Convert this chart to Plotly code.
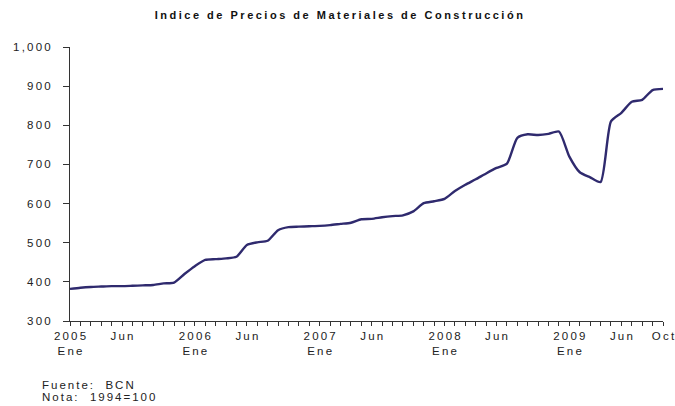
import plotly.graph_objects as go

# Monthly index, Jan 2005 .. Oct 2009
month_index = list(range(58))
values = [382, 385, 387, 388, 389, 389, 390, 391, 392, 396, 398, 420,
          440, 456, 458, 460, 464, 494, 501, 505, 532, 540, 541, 542,
          543, 545, 548, 551, 560, 561, 565, 568, 570, 580, 601, 606,
          612, 632, 648, 662, 677, 691, 702, 768, 777, 775, 778, 784,
          720, 680, 667, 655, 810, 832, 860, 865, 890, 893]

x_tick_labels = {0: ["2005", "Ene"], 5: ["Jun"], 12: ["2006", "Ene"], 17: ["Jun"],
                 24: ["2007", "Ene"], 29: ["Jun"], 36: ["2008", "Ene"], 41: ["Jun"],
                 48: ["2009", "Ene"], 53: ["Jun"], 57: ["Oct"]}
y_tick_vals = [300, 400, 500, 600, 700, 800, 900, 1000]
y_tick_labels = ["300", "400", "500", "600", "700", "800", "900", "1,000"]

title = "Indice de Precios de Materiales de Construcción"
notes = ["Fuente:  BCN", "Nota:  1994=100"]

LS = "letter-spacing:2.2px"


def spaced(s, ls=LS):
    # letter-spacing on all but the last character, so alignment stays true
    return f'<span style="{ls}">{s[:-1]}</span>{s[-1]}'


x_ticktext = ["<br>".join(spaced(p) for p in x_tick_labels[i]) if i in x_tick_labels else ""
              for i in month_index]
y_ticktext = [spaced(t) for t in y_tick_labels]

fig = go.Figure()
fig.add_trace(go.Scatter(x=month_index, y=values, mode="lines",
                         line=dict(color="#2f2a6e", width=2.4, shape="spline", smoothing=0.6),
                         hoverinfo="skip", showlegend=False))

font_fam = "Liberation Sans, Arial, sans-serif"
fig.update_layout(
    width=675, height=406,
    margin=dict(l=70, r=12, t=47, b=85),
    paper_bgcolor="white", plot_bgcolor="white",
    font=dict(family=font_fam, size=11.5, color="#222222"),
    title=dict(text=f'<b>{spaced(title, "letter-spacing:2.5px")}</b>', x=0.502, xref="container",
               y=0.963, yref="container", xanchor="center", yanchor="middle",
               font=dict(size=11, family=font_fam, color="#111111")),
    xaxis=dict(range=[0, 57], tickvals=month_index, ticktext=x_ticktext,
               ticks="outside", ticklen=4, tickwidth=1, tickcolor="#333333",
               showline=True, linecolor="#333333", linewidth=1,
               showgrid=False, zeroline=False, tickangle=0, automargin=False,
               ticklabeloverflow="allow", tickfont=dict(size=11.5)),
    yaxis=dict(range=[300, 1000], tickvals=y_tick_vals, ticktext=y_ticktext,
               ticks="outside", ticklen=6, tickwidth=1, tickcolor="#333333",
               ticklabelstandoff=10,
               showline=True, linecolor="#333333", linewidth=1,
               showgrid=False, zeroline=False, automargin=False,
               tickfont=dict(size=11.5)),
)
for i, t in enumerate(notes):
    fig.add_annotation(text=spaced(t, "letter-spacing:2px"), xref="paper", yref="paper",
                       x=-0.051, y=-0.234 - i * 0.044,
                       xanchor="left", yanchor="middle", showarrow=False,
                       font=dict(size=11.5, family=font_fam, color="#222222"))

fig.write_html("out.html", config={"displayModeBar": False},
               post_script="document.body.style.margin='0';")
